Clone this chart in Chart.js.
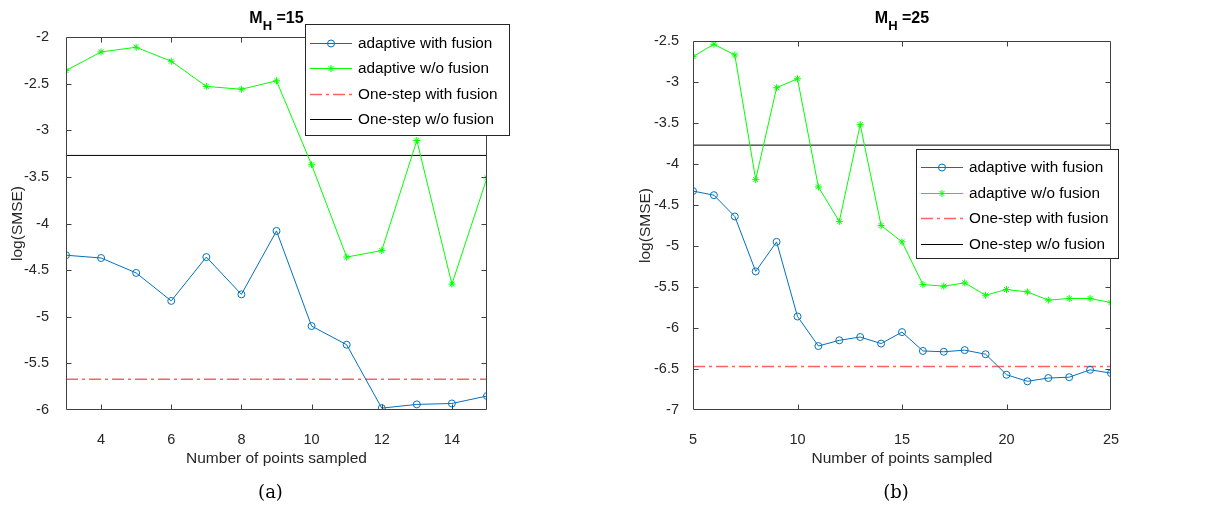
<!DOCTYPE html>
<html>
<head>
<meta charset="utf-8">
<script src="https://cdn.jsdelivr.net/npm/chart.js@4/dist/chart.umd.min.js"></script>
<style>
  body { margin: 0; background: #fff; width: 1205px; height: 508px; overflow: hidden; position: relative; }
  canvas { position: absolute; top: 0; }
  #chartA { left: 0; }
  #chartB { left: 600px; }
</style>
</head>
<body>
<canvas id="chartA" width="600" height="508"></canvas>
<canvas id="chartB" width="605" height="508"></canvas>
<script>
// panel (a), M_H = 15
const pointsA = [3, 4, 5, 6, 7, 8, 9, 10, 11, 12, 13, 14, 15];
const withFusionA = [-4.34, -4.37, -4.53, -4.83, -4.36, -4.76, -4.08, -5.10, -5.30, -5.98, -5.94, -5.93, -5.85];
const withoutFusionA = [-2.36, -2.16, -2.11, -2.26, -2.53, -2.56, -2.47, -3.37, -4.36, -4.29, -3.11, -4.65, -3.51];
const oneStepFusionA = -5.67;
const oneStepNoFusionA = -3.27;
const xTicksA = [4, 6, 8, 10, 12, 14];
const yTicksA = [-6, -5.5, -5, -4.5, -4, -3.5, -3, -2.5, -2];

// panel (b), M_H = 25
const pointsB = [5, 6, 7, 8, 9, 10, 11, 12, 13, 14, 15, 16, 17, 18, 19, 20, 21, 22, 23, 24, 25];
const withFusionB = [-4.33, -4.38, -4.64, -5.31, -4.95, -5.86, -6.22, -6.15, -6.11, -6.19, -6.05,
                     -6.28, -6.29, -6.27, -6.32, -6.57, -6.65, -6.61, -6.60, -6.51, -6.55];
const withoutFusionB = [-2.69, -2.54, -2.67, -4.19, -3.07, -2.96, -4.28, -4.70, -3.52, -4.75, -4.95,
                        -5.47, -5.49, -5.45, -5.60, -5.53, -5.56, -5.66, -5.64, -5.64, -5.69];
const oneStepFusionB = -6.47;
const oneStepNoFusionB = -3.77;
const xTicksB = [5, 10, 15, 20, 25];
const yTicksB = [-7, -6.5, -6, -5.5, -5, -4.5, -4, -3.5, -3, -2.5];

const seriesLabels = ['adaptive with fusion', 'adaptive w/o fusion', 'One-step with fusion', 'One-step w/o fusion'];

const AXIS_COLOR = '#404040';
const TEXT_COLOR = '#262626';
const SANS = "'Liberation Sans', Arial, sans-serif";

function buildDatasets(xs, fusion, noFusion, oneFusion, oneNoFusion) {
    const x0 = xs[0], x1 = xs[xs.length - 1];
    return [
        {
            label: seriesLabels[0],
            data: xs.map((x, i) => ({ x: x, y: fusion[i] })),
            borderColor: '#0072BD', borderWidth: 1,
            pointStyle: 'circle', pointRadius: 3.5,
            pointBorderColor: '#0072BD', pointBackgroundColor: 'rgba(0,0,0,0)', pointBorderWidth: 1
        },
        {
            label: seriesLabels[1],
            data: xs.map((x, i) => ({ x: x, y: noFusion[i] })),
            borderColor: '#00FF00', borderWidth: 1,
            pointStyle: 'star', pointRadius: 3.5,
            pointBorderColor: '#00FF00', pointBackgroundColor: '#00FF00', pointBorderWidth: 1
        },
        {
            label: seriesLabels[2],
            data: [{ x: x0, y: oneFusion }, { x: x1, y: oneFusion }],
            borderColor: '#FF6262', borderWidth: 1.6, borderDash: [12, 4, 3, 4],
            pointRadius: 0
        },
        {
            label: seriesLabels[3],
            data: [{ x: x0, y: oneNoFusion }, { x: x1, y: oneNoFusion }],
            borderColor: '#000000', borderWidth: 1,
            pointRadius: 0
        }
    ];
}

// draws one legend / marker symbol by hand
function drawMarker(ctx, style, cx, cy, r) {
    ctx.beginPath();
    if (style === 'circle') {
        ctx.arc(cx, cy, r, 0, Math.PI * 2);
    } else if (style === 'star') {
        const d = r * Math.SQRT1_2;
        ctx.moveTo(cx - r, cy); ctx.lineTo(cx + r, cy);
        ctx.moveTo(cx, cy - r); ctx.lineTo(cx, cy + r);
        ctx.moveTo(cx - d, cy - d); ctx.lineTo(cx + d, cy + d);
        ctx.moveTo(cx - d, cy + d); ctx.lineTo(cx + d, cy - d);
    }
    ctx.stroke();
}

// MATLAB style frame: box, inward ticks on four sides, title with subscript, caption, boxed legend
const matlabFrame = {
    id: 'matlabFrame',
    afterDatasetsDraw(chart, args, opts) {
        const { ctx, chartArea: a, scales: { x, y } } = chart;
        const L = Math.round(a.left) + 0.5, R = Math.round(a.right) - 0.5;
        const T = Math.round(a.top) + 0.5, B = Math.round(a.bottom) - 0.5;
        ctx.save();
        ctx.strokeStyle = AXIS_COLOR;
        ctx.lineWidth = 1;
        ctx.beginPath();
        ctx.rect(L, T, R - L, B - T);
        ctx.stroke();
        ctx.beginPath();
        x.ticks.forEach(t => {
            const px = Math.round(x.getPixelForValue(t.value)) + 0.5;
            if (px <= L + 1 || px >= R - 1) return;
            ctx.moveTo(px, B); ctx.lineTo(px, B - 5);
            ctx.moveTo(px, T); ctx.lineTo(px, T + 5);
        });
        y.ticks.forEach(t => {
            const py = Math.round(y.getPixelForValue(t.value)) + 0.5;
            if (py <= T + 1 || py >= B - 1) return;
            ctx.moveTo(L, py); ctx.lineTo(L + 5, py);
            ctx.moveTo(R, py); ctx.lineTo(R - 5, py);
        });
        ctx.stroke();

        // title  M_H =NN
        const cx = (a.left + a.right) / 2;
        ctx.fillStyle = '#000';
        ctx.textBaseline = 'alphabetic';
        ctx.font = 'bold 16px ' + SANS;
        const wM = ctx.measureText('M').width;
        const wRest = ctx.measureText(' =' + opts.titleValue).width;
        ctx.font = 'bold 13px ' + SANS;
        const wH = ctx.measureText('H').width;
        let tx = cx - (wM + wH + wRest) / 2;
        ctx.textAlign = 'left';
        ctx.font = 'bold 16px ' + SANS;
        ctx.fillText('M', tx, 23);
        tx += wM;
        ctx.font = 'bold 13px ' + SANS;
        ctx.fillText('H', tx, 30);
        tx += wH;
        ctx.font = 'bold 16px ' + SANS;
        ctx.fillText(' =' + opts.titleValue, tx, 23);

        // caption
        ctx.font = "18px 'DejaVu Serif', 'Liberation Serif', serif";
        ctx.textAlign = 'center';
        ctx.textBaseline = 'middle';
        ctx.fillText(opts.caption, cx + opts.captionShift, 493);
        ctx.restore();
    },
    afterDraw(chart, args, opts) {
        const { ctx } = chart;
        const lg = opts.legend;
        ctx.save();
        ctx.fillStyle = '#fff';
        ctx.fillRect(lg.left, lg.top, lg.width, lg.height);
        ctx.strokeStyle = TEXT_COLOR;
        ctx.lineWidth = 1;
        ctx.strokeRect(lg.left + 0.5, lg.top + 0.5, lg.width, lg.height);
        ctx.font = '15.3px ' + SANS;
        ctx.textAlign = 'left';
        ctx.textBaseline = 'middle';
        chart.data.datasets.forEach((ds, i) => {
            const ry = Math.round(lg.firstRow + i * lg.rowGap) + 0.5;
            const x0 = lg.left + 5, x1 = lg.left + 47;
            ctx.strokeStyle = ds.borderColor;
            ctx.lineWidth = ds.borderWidth;
            ctx.setLineDash(ds.borderDash || []);
            ctx.beginPath();
            ctx.moveTo(x0, ry); ctx.lineTo(x1, ry);
            ctx.stroke();
            ctx.setLineDash([]);
            if (ds.pointRadius > 0) {
                ctx.lineWidth = 1;
                drawMarker(ctx, ds.pointStyle, (x0 + x1) / 2, ry, ds.pointRadius);
            }
            ctx.fillStyle = '#000';
            ctx.fillText(ds.label, lg.left + 53, ry);
        });
        ctx.restore();
    }
};

function makePanel(canvasId, cfg) {
    new Chart(document.getElementById(canvasId), {
        type: 'line',
        data: { datasets: buildDatasets(cfg.xs, cfg.fusion, cfg.noFusion, cfg.oneFusion, cfg.oneNoFusion) },
        options: {
            responsive: false,
            animation: false,
            events: [],
            layout: { padding: { left: cfg.padLeft, right: cfg.padRight, top: cfg.padTop, bottom: 38 } },
            scales: {
                x: {
                    type: 'linear',
                    min: cfg.xs[0],
                    max: cfg.xs[cfg.xs.length - 1],
                    afterBuildTicks: s => { s.ticks = cfg.xTicks.map(v => ({ value: v })); },
                    afterFit: s => { s.height = 60; },
                    grid: { display: false },
                    border: { display: false },
                    ticks: { color: TEXT_COLOR, font: { family: SANS, size: 14.5 }, padding: 13, maxRotation: 0,
                             callback: v => String(v) },
                    title: { display: true, text: 'Number of points sampled', color: TEXT_COLOR,
                             font: { family: SANS, size: 15.5 }, padding: { top: 0, bottom: 2 } }
                },
                y: {
                    type: 'linear',
                    min: cfg.yTicks[0],
                    max: cfg.yTicks[cfg.yTicks.length - 1],
                    afterBuildTicks: s => { s.ticks = cfg.yTicks.map(v => ({ value: v })); },
                    afterFit: s => { s.width = cfg.yWidth; },
                    grid: { display: false },
                    border: { display: false },
                    ticks: { color: TEXT_COLOR, font: { family: SANS, size: 14.5 }, padding: cfg.yTickPad,
                             callback: v => String(v) },
                    title: { display: true, text: 'log(SMSE)', color: TEXT_COLOR,
                             font: { family: SANS, size: 15.5 }, padding: { top: cfg.yTitlePad, bottom: 0 } }
                }
            },
            plugins: {
                legend: { display: false },
                tooltip: { enabled: false },
                matlabFrame: { titleValue: cfg.titleValue, caption: cfg.caption, captionShift: cfg.captionShift,
                               legend: cfg.legend }
            }
        },
        plugins: [matlabFrame]
    });
}

makePanel('chartA', {
    xs: pointsA, fusion: withFusionA, noFusion: withoutFusionA,
    oneFusion: oneStepFusionA, oneNoFusion: oneStepNoFusionA,
    xTicks: xTicksA, yTicks: yTicksA,
    padLeft: 0, padRight: 113, padTop: 37, yWidth: 66, yTickPad: 9, yTitlePad: 8,
    titleValue: '15', caption: '(a)', captionShift: -6,
    legend: { left: 305, top: 24, width: 204, height: 111, firstRow: 43, rowGap: 25.3 }
});

makePanel('chartB', {
    xs: pointsB, fusion: withFusionB, noFusion: withoutFusionB,
    oneFusion: oneStepFusionB, oneNoFusion: oneStepNoFusionB,
    xTicks: xTicksB, yTicks: yTicksB,
    padLeft: 0, padRight: 94, padTop: 41, yWidth: 93, yTickPad: 6, yTitlePad: 36,
    titleValue: '25', caption: '(b)', captionShift: -6,
    legend: { left: 316, top: 149, width: 202, height: 109, firstRow: 167, rowGap: 25.7 }
});
</script>
</body>
</html>
